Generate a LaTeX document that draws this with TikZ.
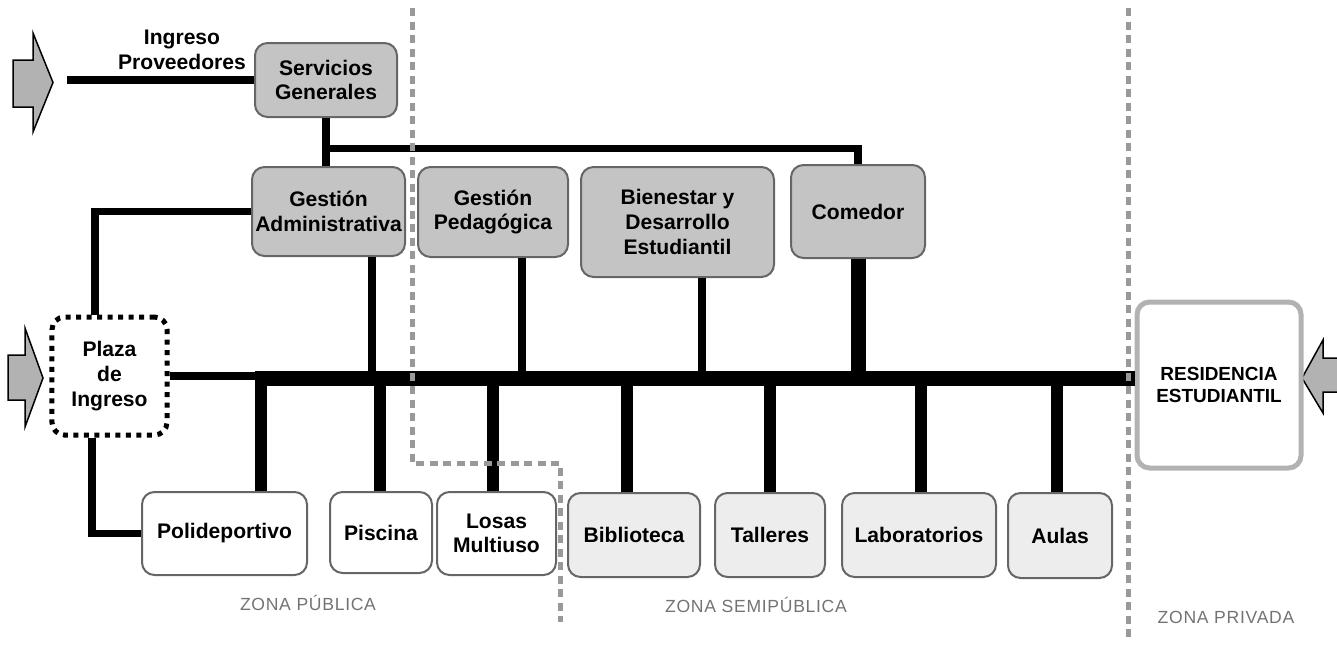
\documentclass[tikz,border=0pt]{standalone}
\usepackage{fontspec}
\setmainfont{Liberation Sans}
\newfontfamily\zonefont[LetterSpace=4]{Liberation Sans}
\begin{document}
\begin{tikzpicture}[x=0.2mm, y=-0.2mm]
      \tikzset{box/.style={draw=black!60, line width=0.4mm, rounded corners=2.5mm, align=center, inner sep=0pt, font=\bfseries\fontsize{12}{14}\selectfont},
        dark/.style={box, fill=black!23},
        light/.style={box, fill=black!7},
        blank/.style={box, fill=white},
        plaza/.style={box, draw=black, fill=white, line width=1mm, dash pattern=on 1mm off 1.1mm},
        resi/.style={box, draw=black!30, fill=white, line width=1mm, font=\bfseries\fontsize{10.8}{12.6}\selectfont},
        lbl/.style={align=center, font=\bfseries\fontsize{12}{14}\selectfont},
        zone/.style={text=black!55, font=\zonefont\fontsize{10}{12}\selectfont},
        link/.style={line width=1.5mm},
        drop/.style={line width=2.3mm},
        bus/.style={line width=3mm},
        border/.style={draw=black!40, line width=1mm, dash pattern=on 1.6mm off 1.1mm},
        block/.style={draw=black, fill=black!30, line width=0.3mm}}
      \useasboundingbox (0,0) rectangle (1337,646);
%% Entrances
      \filldraw[block] (13,60) -- (33,60) -- (33,33) -- (53,82.5) -- (33,132) -- (33,107) -- (13,107) -- cycle;
      \filldraw[block] (8,355) -- (25,355) -- (25,328) -- (43,378) -- (25,427) -- (25,400) -- (8,400) -- cycle;
      \filldraw[block] (1345,358) -- (1323,358) -- (1323,340) -- (1302,378) -- (1323,413) -- (1323,392) -- (1345,392) -- cycle;
%% Spaces
      \node[lbl] (prov) at (182,50) {Ingreso\\Proveedores};
      \node[dark, minimum width=28.4mm, minimum height=14.8mm] (serv) at (326,80) {Servicios\\Generales};
      \node[dark, minimum width=30.6mm, minimum height=17.8mm] (gadm) at (328.5,211.5) {Gestión\\Administrativa};
      \node[dark, minimum width=30mm, minimum height=18mm] (gped) at (493,212) {Gestión\\Pedagógica};
      \node[dark, minimum width=38.6mm, minimum height=22mm] (bien) at (677.5,222) {Bienestar y\\Desarrollo\\Estudiantil};
      \node[dark, minimum width=26.8mm, minimum height=18.6mm] (come) at (858,211.5) {Comedor};
      \node[plaza, minimum width=23mm, minimum height=23.6mm] (plaza) at (109.5,376) {Plaza\\de\\Ingreso};
      \node[resi, minimum width=32.8mm, minimum height=33.2mm] (resi) at (1219,385) {RESIDENCIA\\ESTUDIANTIL};
      \node[blank, minimum width=33mm, minimum height=16.6mm] (poli) at (224.5,533.5) {Polideportivo};
      \node[blank, minimum width=20.4mm, minimum height=16.2mm] (pisc) at (381,532.5) {Piscina};
      \node[blank, minimum width=23.8mm, minimum height=16.6mm] (losa) at (496.5,533.5) {Losas\\Multiuso};
      \node[light, minimum width=26.4mm, minimum height=16.8mm] (bibl) at (634,535) {Biblioteca};
      \node[light, minimum width=22mm, minimum height=16.8mm] (tall) at (770,535) {Talleres};
      \node[light, minimum width=30.8mm, minimum height=16.8mm] (labo) at (919,535) {Laboratorios};
      \node[light, minimum width=20.8mm, minimum height=17mm] (aula) at (1060,535.5) {Aulas};
      \node[zone] (zpub) at (308,603) {ZONA PÚBLICA};
      \node[zone] (zsemi) at (756,605) {ZONA SEMIPÚBLICA};
      \node[zone] (zpriv) at (1226,617) {ZONA PRIVADA};
%Edges
      \coordinate (pin) at (67,80);
      \draw[link] (pin) -- (serv.west);
      \draw[link] (serv.south) -- (serv.south |- gadm.north);
      \path (serv.south) -- (serv.south |- gadm.north) coordinate[pos=0.64] (fork);
      \draw[link] (fork) -| (come.north);
      \draw[link] (gadm.west) -| ([xshift=-2.9mm]plaza.north);
      \draw[link] ([xshift=-3.5mm]plaza.south) |- (poli.west);
      \coordinate (b0) at (261,378);
      \draw[link] (plaza.east) -- (plaza.east -| b0);
      \foreach \x/\n in {261/poli, 380/pisc, 493/losa, 627/bibl, 770/tall, 921/labo, 1057/aula} {
        \coordinate (d\n) at (\x,378);
        \draw[drop] (d\n) -- (d\n |- \n.north);
      }
      \foreach \x/\n in {372/gadm, 522/gped, 702/bien} {
        \coordinate (u\n) at (\x,378);
        \draw[link] (u\n |- \n.south) -- (u\n);
      }
      \draw[bus] (come.south) -- (come.south |- b0);
      \draw[bus] ([xshift=-1.2mm]b0) -- (b0 -| resi.west);
%Zones
      \draw[border] (412,8) -- (412,463) -- (560,463) -- (560,622);
      \draw[border] (1128,8) -- (1128,642);
\end{tikzpicture}
\end{document}
